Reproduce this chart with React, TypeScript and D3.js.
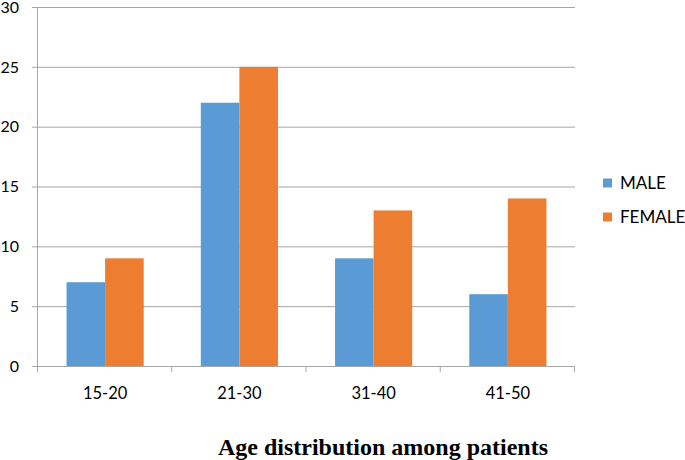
import { useEffect, useRef } from 'react';
import * as d3 from 'd3';

const categories = ['15-20', '21-30', '31-40', '41-50'];
const maleValues = [7, 22, 9, 6];
const femaleValues = [9, 25, 13, 14];
const yTicks = [0, 5, 10, 15, 20, 25, 30];
const seriesNames = ['MALE', 'FEMALE'];

const COLORS = ['#5B9BD5', '#ED7D31'];

export default function App() {
  const svgRef = useRef<SVGSVGElement>(null);

  useEffect(() => {
    if (!svgRef.current) return;
    const svg = d3.select(svgRef.current);
    svg.selectAll('*').remove();

    const width = 685;
    const height = 460;
    const left = 38, right = 575, top = 7, bottom = 366;
    const font = 'Lato, "Open Sans", sans-serif';

    const x = d3.scaleBand().domain(categories).range([left, right]).paddingInner(0).paddingOuter(0);
    const inner = d3.scaleBand().domain(seriesNames).range([0, x.bandwidth()]).paddingInner(0).paddingOuter(0.74);
    const y = d3.scaleLinear().domain([0, 30]).range([bottom, top]);

    svg.attr('width', width).attr('height', height);

    // gridlines
    svg.append('g')
      .selectAll('line')
      .data(yTicks)
      .enter()
      .append('line')
      .attr('x1', left - 6)
      .attr('x2', right)
      .attr('y1', d => y(d) + 0.5)
      .attr('y2', d => y(d) + 0.5)
      .attr('stroke', '#A6A6A6')
      .attr('stroke-width', 1);

    // y axis line
    svg.append('line')
      .attr('x1', left - 0.5).attr('x2', left - 0.5)
      .attr('y1', top).attr('y2', bottom + 0.5)
      .attr('stroke', '#A6A6A6');

    // category ticks
    const edges = categories.map(c => x(c) as number).concat([right]);
    svg.append('g')
      .selectAll('line')
      .data(edges)
      .enter()
      .append('line')
      .attr('x1', d => d - 0.5).attr('x2', d => d - 0.5)
      .attr('y1', bottom).attr('y2', bottom + 6)
      .attr('stroke', '#A6A6A6');

    // y labels
    svg.append('g')
      .selectAll('text')
      .data(yTicks)
      .enter()
      .append('text')
      .attr('x', 19)
      .attr('y', d => y(d))
      .attr('dy', '0.36em')
      .attr('text-anchor', 'end')
      .style('font-family', font)
      .style('font-size', '16px')
      .attr('fill', '#000')
      .text(d => d);

    // bars
    const series = [maleValues, femaleValues];
    series.forEach((vals, si) => {
      svg.append('g')
        .selectAll('rect')
        .data(vals)
        .enter()
        .append('rect')
        .attr('x', (_, i) => (x(categories[i]) as number) + (inner(seriesNames[si]) as number))
        .attr('width', inner.bandwidth())
        .attr('y', d => y(d))
        .attr('height', d => bottom - y(d))
        .attr('fill', COLORS[si]);
    });

    // x labels
    svg.append('g')
      .selectAll('text')
      .data(categories)
      .enter()
      .append('text')
      .attr('x', d => (x(d) as number) + x.bandwidth() / 2)
      .attr('y', 393)
      .attr('dy', '0.36em')
      .attr('text-anchor', 'middle')
      .style('font-family', font)
      .style('font-size', '16.5px')
      .attr('fill', '#000')
      .text(d => d);

    // legend
    const legend = svg.append('g');
    seriesNames.forEach((name, i) => {
      const ly = 183 + i * 34;
      legend.append('rect')
        .attr('x', 603).attr('y', ly - 4.5)
        .attr('width', 9).attr('height', 9)
        .attr('fill', COLORS[i]);
      legend.append('text')
        .attr('x', 620).attr('y', ly)
        .attr('dy', '0.36em')
        .style('font-family', font)
        .style('font-size', '17px')
        .attr('fill', '#000')
        .text(name);
    });

    // title
    svg.append('text')
      .attr('x', 383)
      .attr('y', 455)
      .attr('text-anchor', 'middle')
      .style('font-family', '"Liberation Serif", "Times New Roman", serif')
      .style('font-size', '24px')
      .style('font-weight', 'bold')
      .attr('fill', '#000')
      .text('Age distribution among patients');
  }, []);

  return (
    <div style={{ position: 'absolute', left: 0, top: 0, width: 685, height: 460, background: '#fff' }}>
      <svg ref={svgRef} style={{ display: 'block' }}></svg>
    </div>
  );
}
